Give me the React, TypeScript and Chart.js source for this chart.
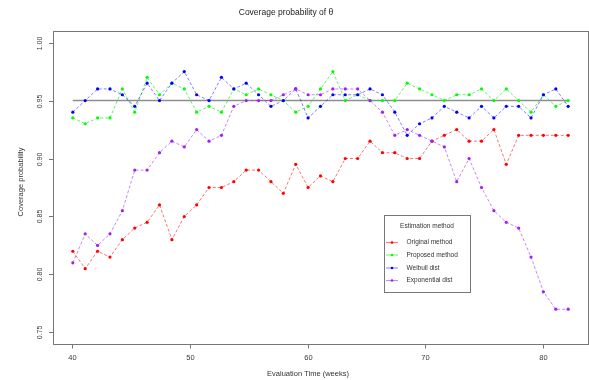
import React, { useEffect, useRef } from "react";
import { Chart, registerables } from "chart.js";

Chart.register(...registerables);

const TITLE = "Coverage probability of θ";
const X_TITLE = "Evaluation Time (weeks)";
const Y_TITLE = "Coverage probability";
const LEGEND_TITLE = "Estimation method";

const times = [
  40.1, 41.15, 42.2, 43.25, 44.3, 45.35, 46.4, 47.45, 48.5, 49.55, 50.6,
  51.65, 52.7, 53.75, 54.8, 55.85, 56.9, 57.95, 59.0, 60.05, 61.1, 62.15,
  63.2, 64.25, 65.3, 66.35, 67.4, 68.45, 69.5, 70.55, 71.6, 72.65, 73.7,
  74.75, 75.8, 76.85, 77.9, 78.95, 80.0, 81.05, 82.1,
];

const originalMethod = [
  0.82, 0.805, 0.82, 0.815, 0.83, 0.84, 0.845, 0.86, 0.83, 0.85, 0.86,
  0.875, 0.875, 0.88, 0.89, 0.89, 0.88, 0.87, 0.895, 0.875, 0.885, 0.88,
  0.9, 0.9, 0.915, 0.905, 0.905, 0.9, 0.9, 0.915, 0.92, 0.925, 0.915,
  0.915, 0.925, 0.895, 0.92, 0.92, 0.92, 0.92, 0.92,
];

const proposedMethod = [
  0.935, 0.93, 0.935, 0.935, 0.96, 0.94, 0.97, 0.955, 0.965, 0.96, 0.94,
  0.945, 0.94, 0.96, 0.955, 0.96, 0.955, 0.95, 0.94, 0.945, 0.96, 0.975,
  0.95, 0.955, 0.95, 0.95, 0.95, 0.965, 0.96, 0.955, 0.95, 0.955, 0.955,
  0.96, 0.95, 0.96, 0.95, 0.94, 0.955, 0.945, 0.95,
];

const weibullDist = [
  0.94, 0.95, 0.96, 0.96, 0.955, 0.945, 0.965, 0.95, 0.965, 0.975, 0.955,
  0.95, 0.97, 0.96, 0.965, 0.955, 0.945, 0.95, 0.96, 0.935, 0.945, 0.955,
  0.955, 0.955, 0.96, 0.955, 0.94, 0.92, 0.93, 0.935, 0.945, 0.94, 0.935,
  0.945, 0.935, 0.945, 0.945, 0.935, 0.955, 0.96, 0.945,
];

const exponentialDist = [
  0.81, 0.835, 0.825, 0.835, 0.855, 0.89, 0.89, 0.905, 0.915, 0.91, 0.925,
  0.915, 0.92, 0.945, 0.95, 0.95, 0.95, 0.955, 0.96, 0.955, 0.955, 0.96,
  0.96, 0.96, 0.95, 0.94, 0.92, 0.925, 0.92, 0.915, 0.91, 0.88, 0.9,
  0.875, 0.855, 0.845, 0.84, 0.815, 0.785, 0.77, 0.77,
];

const nominalLevel = 0.95;

const seriesNames = ["Original method", "Proposed method", "Weibull dist", "Exponential dist"];
const seriesColors = ["#FF0000", "#00FF00", "#0000FF", "#A020F0"];
const seriesLineColors = [
  "rgba(255,0,0,0.55)",
  "rgba(0,230,0,0.6)",
  "rgba(0,0,255,0.5)",
  "rgba(160,32,240,0.55)",
];
const seriesValues = [originalMethod, proposedMethod, weibullDist, exponentialDist];

const xTicks = [40, 50, 60, 70, 80];
const xTickLabels = ["40", "50", "60", "70", "80"];
const yTicks = [0.75, 0.8, 0.85, 0.9, 0.95, 1.0];
const yTickLabels = ["0.75", "0.80", "0.85", "0.90", "0.95", "1.00"];

const FONT = '"Liberation Sans", Arial, sans-serif';

const rStylePlugin = {
  id: "rStyle",
  afterDraw(chart: any) {
    const ctx: CanvasRenderingContext2D = chart.ctx;
    const { left, right, top, bottom } = chart.chartArea;
    const xs = chart.scales.x;
    const ys = chart.scales.y;
    ctx.save();

    // plot frame
    ctx.strokeStyle = "#777";
    ctx.lineWidth = 1;
    ctx.strokeRect(Math.round(left) + 0.5, Math.round(top) + 0.5, Math.round(right - left), Math.round(bottom - top));

    ctx.fillStyle = "#3a3a3a";
    ctx.strokeStyle = "#777";

    // x axis ticks + labels
    ctx.font = `7.5px ${FONT}`;
    ctx.textAlign = "center";
    ctx.textBaseline = "middle";
    xTicks.forEach((v, i) => {
      const px = Math.round(xs.getPixelForValue(v)) + 0.5;
      ctx.beginPath();
      ctx.moveTo(px, Math.round(bottom) + 0.5);
      ctx.lineTo(px, Math.round(bottom) + 4.5);
      ctx.stroke();
      ctx.fillText(xTickLabels[i], px, 358);
    });

    // y axis ticks + rotated labels
    ctx.font = `7px ${FONT}`;
    yTicks.forEach((v, i) => {
      const py = Math.round(ys.getPixelForValue(v)) + 0.5;
      ctx.beginPath();
      ctx.moveTo(Math.round(left) - 4, py);
      ctx.lineTo(Math.round(left) + 0.5, py);
      ctx.stroke();
      ctx.save();
      ctx.translate(40, py);
      ctx.rotate(-Math.PI / 2);
      ctx.fillText(yTickLabels[i], 0, 0);
      ctx.restore();
    });

    // axis titles
    ctx.fillStyle = "#333";
    ctx.font = `7.5px ${FONT}`;
    ctx.fillText(X_TITLE, 308, 374);
    ctx.save();
    ctx.translate(21, 182);
    ctx.rotate(-Math.PI / 2);
    ctx.fillText(Y_TITLE, 0, 0);
    ctx.restore();

    // main title
    ctx.fillStyle = "#222";
    ctx.font = `8.5px ${FONT}`;
    ctx.fillText(TITLE, 286, 13);

    // legend
    const lx = 384.5, ly = 215.5, lw = 86, lh = 77;
    ctx.fillStyle = "#fff";
    ctx.fillRect(lx, ly, lw, lh);
    ctx.strokeStyle = "#777";
    ctx.strokeRect(lx, ly, lw, lh);
    ctx.fillStyle = "#333";
    ctx.font = `6.5px ${FONT}`;
    ctx.textAlign = "center";
    ctx.fillText(LEGEND_TITLE, 427, 226);
    const rowY = [242.5, 255, 268, 280.5];
    seriesNames.forEach((name, i) => {
      const y = rowY[i];
      ctx.strokeStyle = seriesLineColors[i];
      ctx.lineWidth = 1;
      ctx.beginPath();
      ctx.moveTo(386, y);
      ctx.lineTo(398, y);
      ctx.stroke();
      ctx.fillStyle = seriesColors[i];
      ctx.beginPath();
      ctx.arc(392, y, 1.3, 0, Math.PI * 2);
      ctx.fill();
      ctx.fillStyle = "#333";
      ctx.textAlign = "left";
      ctx.fillText(name, 406.5, y);
    });

    ctx.restore();
  },
};

export default function App() {
  const canvasRef = useRef<HTMLCanvasElement | null>(null);

  useEffect(() => {
    const canvas = canvasRef.current;
    if (!canvas) return;

    const datasets: any[] = seriesNames.map((name, si) => ({
      label: name,
      data: times.map((t, i) => ({ x: t, y: seriesValues[si][i] })),
      borderColor: seriesLineColors[si],
      backgroundColor: seriesColors[si],
      pointBackgroundColor: seriesColors[si],
      pointBorderWidth: 0,
      pointRadius: 1.6,
      borderWidth: 1,
      borderDash: [3, 2],
      tension: 0,
      order: 4 - si,
    }));

    datasets.push({
      label: "nominal",
      data: [
        { x: times[0], y: nominalLevel },
        { x: times[times.length - 1], y: nominalLevel },
      ],
      borderColor: "#8f8f8f",
      borderWidth: 1.6,
      pointRadius: 0,
      order: 10,
    });

    const chart = new Chart(canvas, {
      type: "line",
      data: { datasets },
      options: {
        animation: false,
        responsive: false,
        maintainAspectRatio: false,
        layout: { padding: { left: 53, top: 31, right: 2, bottom: 36 } },
        plugins: {
          legend: { display: false },
          title: { display: false },
          tooltip: { enabled: false },
        },
        scales: {
          x: { type: "linear", display: false, min: 38.42, max: 83.78 },
          y: { type: "linear", display: false, min: 0.74, max: 1.01 },
        },
      },
      plugins: [rStylePlugin],
    });

    return () => chart.destroy();
  }, []);

  return (
    <div
      style={{
        position: "absolute",
        left: 0,
        top: 0,
        width: 589,
        height: 380,
        overflow: "hidden",
        background: "#fff",
      }}
    >
      <canvas ref={canvasRef} width={592} height={380} style={{ display: "block", width: 592, height: 380 }} />
    </div>
  );
}
